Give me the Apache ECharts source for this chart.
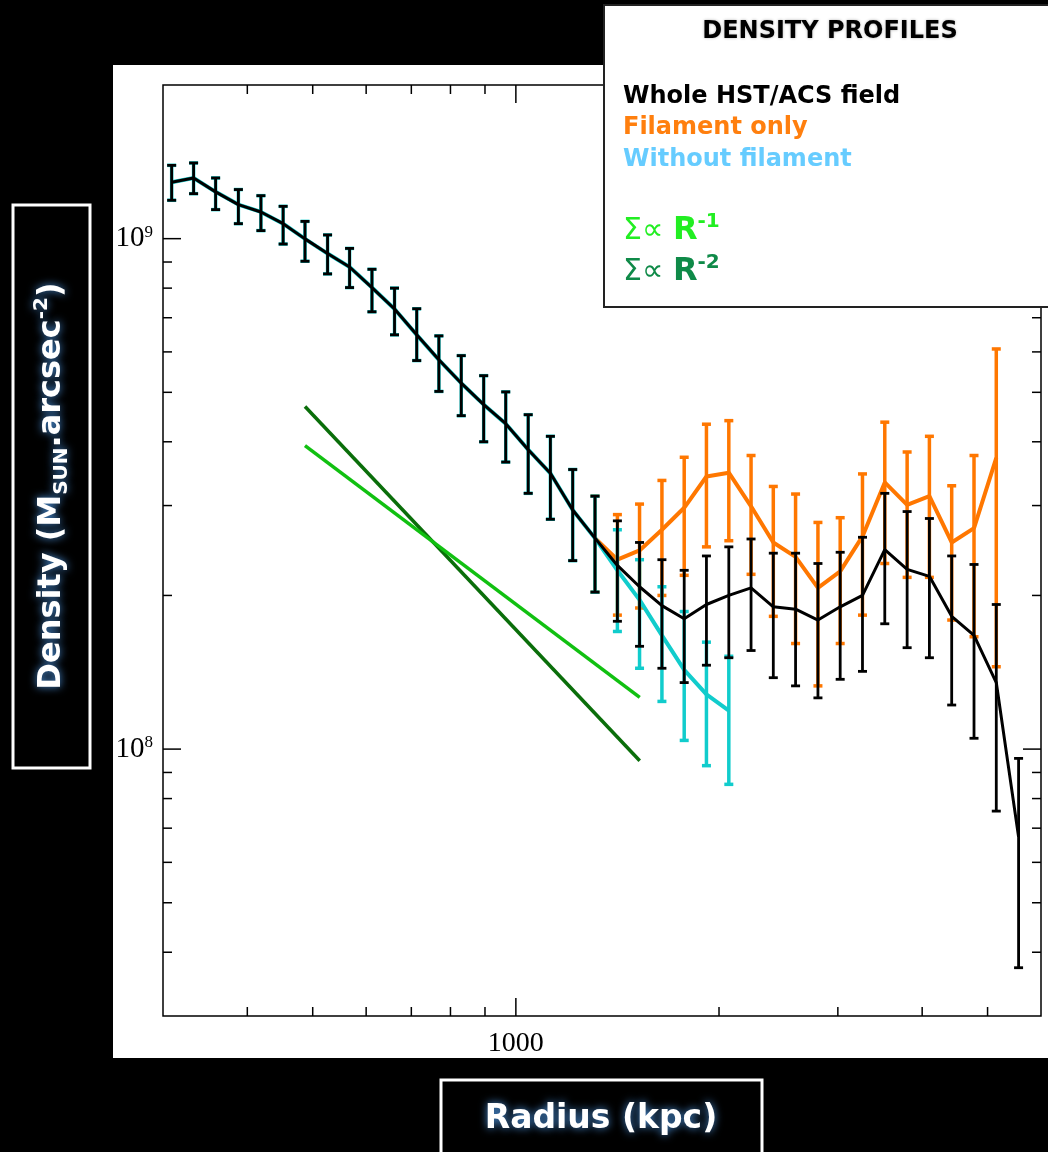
<!DOCTYPE html>
<html lang="en">
<head>
<meta charset="UTF-8">
<title>Density profiles</title>
<script src="https://cdn.jsdelivr.net/npm/echarts@6/dist/echarts.min.js"></script>
<style>html,body{margin:0;background:#000;}</style>
</head>
<body>
<div id="main" style="width:1048px;height:1152px;"></div>
<script>
// radius bins (kpc)
var radius = [309, 333, 359, 388, 419, 452, 487, 526, 567, 612,
  661, 713, 769, 830, 896, 966, 1043, 1125, 1214, 1310,
  1414, 1525, 1646, 1776, 1916, 2068, 2231, 2407, 2597, 2803,
  3024, 3263, 3521, 3800, 4100, 4424, 4774, 5151, 5558];

// whole HST/ACS field (black)
var wholeVal = [1.29e9, 1.315e9, 1.235e9, 1.166e9, 1.128e9, 1.07e9, 9.99e8, 9.35e8, 8.8e8, 8.02e8,
  7.28e8, 6.48e8, 5.79e8, 5.21e8, 4.73e8, 4.34e8, 3.86e8, 3.47e8, 2.94e8, 2.59e8,
  2.29e8, 2.08e8, 1.91e8, 1.8e8, 1.92e8, 2.0e8, 2.07e8, 1.9e8, 1.88e8, 1.79e8,
  1.9e8, 2.0e8, 2.46e8, 2.25e8, 2.18e8, 1.82e8, 1.67e8, 1.35e8, 6.73e7];
var wholeHi = [1.392e9, 1.407e9, 1.315e9, 1.248e9, 1.214e9, 1.157e9, 1.081e9, 1.017e9, 9.57e8, 8.71e8,
  8.0e8, 7.29e8, 6.45e8, 5.9e8, 5.39e8, 5.01e8, 4.52e8, 4.1e8, 3.53e8, 3.13e8,
  2.8e8, 2.54e8, 2.35e8, 2.24e8, 2.39e8, 2.49e8, 2.58e8, 2.42e8, 2.42e8, 2.31e8,
  2.43e8, 2.6e8, 3.17e8, 2.92e8, 2.83e8, 2.39e8, 2.3e8, 1.92e8, 9.59e7];
var wholeLo = [1.189e9, 1.225e9, 1.14e9, 1.07e9, 1.037e9, 9.76e8, 9.03e8, 8.53e8, 8.02e8, 7.19e8,
  6.48e8, 5.77e8, 5.02e8, 4.5e8, 4.0e8, 3.65e8, 3.17e8, 2.82e8, 2.34e8, 2.03e8,
  1.78e8, 1.59e8, 1.44e8, 1.35e8, 1.46e8, 1.51e8, 1.56e8, 1.38e8, 1.33e8, 1.26e8,
  1.37e8, 1.42e8, 1.76e8, 1.58e8, 1.51e8, 1.22e8, 1.05e8, 7.56e7, 3.73e7];

// filament only (orange), bins 19..37
var filStart = 19;
var filVal = [2.59e8, 2.35e8, 2.45e8, 2.69e8, 2.97e8, 3.42e8, 3.48e8, 2.99e8, 2.54e8, 2.38e8,
  2.07e8, 2.23e8, 2.61e8, 3.33e8, 3.01e8, 3.13e8, 2.54e8, 2.71e8, 3.72e8];
var filHi = [3.13e8, 2.88e8, 3.02e8, 3.36e8, 3.73e8, 4.33e8, 4.4e8, 3.76e8, 3.27e8, 3.16e8,
  2.78e8, 2.84e8, 3.46e8, 4.37e8, 3.82e8, 4.1e8, 3.28e8, 3.76e8, 6.08e8];
var filLo = [2.03e8, 1.83e8, 1.89e8, 2.0e8, 2.19e8, 2.49e8, 2.56e8, 2.2e8, 1.82e8, 1.61e8,
  1.33e8, 1.61e8, 1.83e8, 2.31e8, 2.17e8, 2.17e8, 1.79e8, 1.66e8, 1.45e8];

// without filament (cyan), bins 0..25 (same as whole field inside 20 bins)
var noFilVal = wholeVal.slice(0, 20).concat([2.24e8, 1.96e8, 1.67e8, 1.43e8, 1.28e8, 1.19e8]);
var noFilHi = wholeHi.slice(0, 20).concat([2.69e8, 2.35e8, 2.08e8, 1.86e8, 1.62e8, 1.52e8]);
var noFilLo = wholeLo.slice(0, 20).concat([1.7e8, 1.44e8, 1.24e8, 1.04e8, 9.28e7, 8.53e7]);

// reference slopes
var slopeR1 = [[487, 3.93e8], [1526, 1.263e8]];
var slopeR2 = [[487, 4.69e8], [1526, 9.49e7]];

// axis ticks
var xMajor = [1000];
var xMinor = [400, 500, 600, 700, 800, 900, 2000, 3000, 4000, 5000];
var yMajor = [1e8, 1e9];
var yMinor = [4e7, 5e7, 6e7, 7e7, 8e7, 9e7, 2e8, 3e8, 4e8, 5e8, 6e8, 7e8, 8e8, 9e8];

function pts(ys, off) {
  return ys.map(function (v, k) { return [radius[k + off], v]; });
}
function bars(lo, hi, off) {
  return lo.map(function (v, k) { return [radius[k + off], v, hi[k]]; });
}

function errRender(color, lw, cap) {
  return function (params, api) {
    var x = api.value(0);
    var a = api.coord([x, api.value(1)]);
    var b = api.coord([x, api.value(2)]);
    var st = { stroke: color, lineWidth: lw };
    return {
      type: 'group',
      children: [
        { type: 'line', shape: { x1: a[0], y1: a[1], x2: b[0], y2: b[1] }, style: st },
        { type: 'line', shape: { x1: a[0] - cap, y1: a[1], x2: a[0] + cap, y2: a[1] }, style: st },
        { type: 'line', shape: { x1: b[0] - cap, y1: b[1], x2: b[0] + cap, y2: b[1] }, style: st }
      ]
    };
  };
}

function xTickRender(params, api) {
  var cs = params.coordSys;
  var px = api.coord([api.value(0), 1e8])[0];
  var major = api.value(2) === 1;
  var len = major ? 18 : 9;
  var st = { stroke: '#000', lineWidth: 1.5 };
  var kids = [
    { type: 'line', shape: { x1: px, y1: cs.y + cs.height, x2: px, y2: cs.y + cs.height - len }, style: st },
    { type: 'line', shape: { x1: px, y1: cs.y, x2: px, y2: cs.y + len }, style: st }
  ];
  if (major) {
    kids.push({
      type: 'text', x: px, y: cs.y + cs.height + 28,
      style: { text: String(api.value(0)), font: '28px "Liberation Serif", serif', fill: '#000',
        textAlign: 'center', textVerticalAlign: 'middle' }
    });
  }
  return { type: 'group', children: kids };
}

function yTickRender(params, api) {
  var cs = params.coordSys;
  var v = api.value(1);
  var py = api.coord([1000, v])[1];
  var major = api.value(2) === 1;
  var len = major ? 18 : 9;
  var st = { stroke: '#000', lineWidth: 1.5 };
  var kids = [
    { type: 'line', shape: { x1: cs.x, y1: py, x2: cs.x + len, y2: py }, style: st },
    { type: 'line', shape: { x1: cs.x + cs.width, y1: py, x2: cs.x + cs.width - len, y2: py }, style: st }
  ];
  if (major) {
    kids.push({
      type: 'text', x: cs.x - 10, y: py,
      style: {
        text: '{b|10}{s|' + Math.round(Math.log10(v)) + '}',
        textAlign: 'right', textVerticalAlign: 'middle',
        rich: {
          b: { font: '29px "Liberation Serif", serif', fill: '#000', lineHeight: 30 },
          s: { font: '17px "Liberation Serif", serif', fill: '#000', verticalAlign: 'top', lineHeight: 30 }
        }
      }
    });
  }
  return { type: 'group', children: kids };
}

var chart = echarts.init(document.getElementById('main'));

var glow = { textShadowColor: '#4a90d9', textShadowBlur: 8 };
var legendFont = 'bold 24px "DejaVu Sans", sans-serif';

function sigmaRow(y, color, power) {
  return {
    type: 'text', z: 101, x: 623, y: y,
    style: {
      text: '{a|\u03a3\u221d }{r|R}{s|' + power + '}', textVerticalAlign: 'middle',
      rich: {
        a: { font: '30px "DejaVu Sans", sans-serif', fill: color, lineHeight: 38 },
        r: { font: 'bold 32px "DejaVu Sans", sans-serif', fill: color, lineHeight: 38 },
        s: { font: 'bold 20px "DejaVu Sans", sans-serif', fill: color, verticalAlign: 'top', lineHeight: 38 }
      }
    }
  };
}

var option = {
  backgroundColor: '#000',
  animation: false,
  grid: {
    left: 163, top: 85, width: 878, height: 931,
    show: true, borderColor: '#000', borderWidth: 1.5, backgroundColor: 'transparent'
  },
  xAxis: {
    type: 'log', logBase: 10, min: 300, max: 6000,
    axisLine: { show: false }, axisTick: { show: false }, axisLabel: { show: false }, splitLine: { show: false }
  },
  yAxis: {
    type: 'log', logBase: 10, min: 3e7, max: 2e9,
    axisLine: { show: false }, axisTick: { show: false }, axisLabel: { show: false }, splitLine: { show: false }
  },
  graphic: [
    { type: 'rect', z: -100, shape: { x: 113, y: 65, width: 935, height: 993 }, style: { fill: '#fff' } },
    // y axis title box
    { type: 'rect', shape: { x: 13, y: 205, width: 77, height: 563 }, style: { fill: '#000', stroke: '#fff', lineWidth: 3 } },
    {
      type: 'text', x: 52, y: 486, rotation: Math.PI / 2,
      style: {
        text: '{m|Density (M}{sub|SUN}{m|.arcsec}{sup|-2}{m|)}',
        textAlign: 'center', textVerticalAlign: 'middle',
        rich: {
          m: { font: 'bold 32px "DejaVu Sans", sans-serif', fill: '#fff', lineHeight: 40, textShadowColor: '#4a90d9', textShadowBlur: 8 },
          sub: { font: 'bold 20px "DejaVu Sans", sans-serif', fill: '#fff', verticalAlign: 'bottom', lineHeight: 40, textShadowColor: '#4a90d9', textShadowBlur: 8 },
          sup: { font: 'bold 20px "DejaVu Sans", sans-serif', fill: '#fff', verticalAlign: 'top', lineHeight: 40, textShadowColor: '#4a90d9', textShadowBlur: 8 }
        }
      }
    },
    // x axis title box
    { type: 'rect', shape: { x: 441, y: 1080, width: 321, height: 80 }, style: { fill: '#000', stroke: '#fff', lineWidth: 3 } },
    {
      type: 'text', x: 601, y: 1119,
      style: Object.assign({ text: 'Radius (kpc)', font: 'bold 33px "DejaVu Sans", sans-serif', fill: '#fff',
        textAlign: 'center', textVerticalAlign: 'middle' }, glow)
    },
    // legend box
    { type: 'rect', z: 100, shape: { x: 604, y: 5, width: 446, height: 302 }, style: { fill: '#fff', stroke: '#222', lineWidth: 2 } },
    {
      type: 'text', z: 101, x: 830, y: 32,
      style: { text: 'DENSITY PROFILES', font: 'bold 24px "DejaVu Sans", sans-serif', fill: '#000',
        textAlign: 'center', textVerticalAlign: 'middle', textShadowColor: 'rgba(0,0,0,0.3)', textShadowBlur: 3 }
    },
    { type: 'text', z: 101, x: 623, y: 97, style: { text: 'Whole HST/ACS field', font: legendFont, fill: '#000', textVerticalAlign: 'middle' } },
    { type: 'text', z: 101, x: 623, y: 128, style: { text: 'Filament only', font: legendFont, fill: '#ff7f0e', textVerticalAlign: 'middle' } },
    { type: 'text', z: 101, x: 623, y: 160, style: { text: 'Without filament', font: legendFont, fill: '#66ccff', textVerticalAlign: 'middle' } },
    sigmaRow(231, '#22ee22', '-1'),
    sigmaRow(272, '#0f8a48', '-2')
  ],
  series: [
    {
      type: 'custom', name: 'xticks', renderItem: xTickRender, z: 5,
      data: xMajor.map(function (v) { return [v, 1e8, 1]; }).concat(xMinor.map(function (v) { return [v, 1e8, 0]; }))
    },
    {
      type: 'custom', name: 'yticks', renderItem: yTickRender, z: 5,
      data: yMajor.map(function (v) { return [1000, v, 1]; }).concat(yMinor.map(function (v) { return [1000, v, 0]; }))
    },
    {
      type: 'line', name: 'R-2', data: slopeR2, symbol: 'none', z: 2,
      lineStyle: { color: '#0a6e0a', width: 3.5 }
    },
    {
      type: 'line', name: 'R-1', data: slopeR1, symbol: 'none', z: 2,
      lineStyle: { color: '#11c011', width: 3.5 }
    },
    {
      type: 'custom', name: 'fil err', renderItem: errRender('#ff7700', 3.5, 4.5), z: 3,
      data: bars(filLo, filHi, filStart)
    },
    {
      type: 'line', name: 'Filament only', data: pts(filVal, filStart), symbol: 'none', z: 3,
      lineStyle: { color: '#ff7700', width: 4 }
    },
    {
      type: 'custom', name: 'nofil err', renderItem: errRender('#11cccc', 3.5, 4.5), z: 4,
      data: bars(noFilLo, noFilHi, 0)
    },
    {
      type: 'line', name: 'Without filament', data: pts(noFilVal, 0), symbol: 'none', z: 4,
      lineStyle: { color: '#11cccc', width: 4 }
    },
    {
      type: 'custom', name: 'whole err', renderItem: errRender('#000', 2.8, 4.5), z: 6,
      data: bars(wholeLo, wholeHi, 0)
    },
    {
      type: 'line', name: 'Whole HST/ACS field', data: pts(wholeVal, 0), symbol: 'none', z: 6,
      lineStyle: { color: '#000', width: 3 }
    }
  ]
};

chart.setOption(option);
</script>
</body>
</html>
